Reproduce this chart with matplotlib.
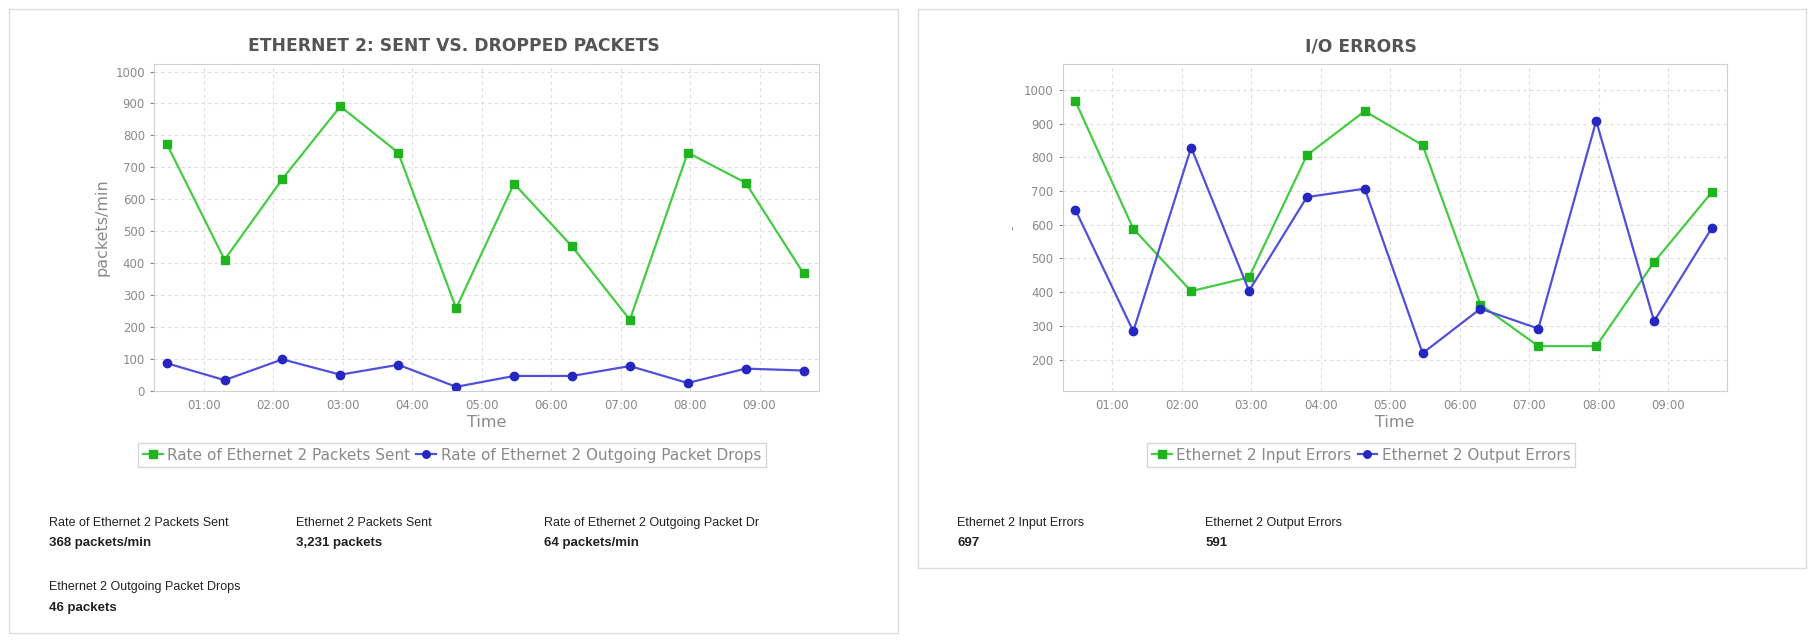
import matplotlib.pyplot as plt
from matplotlib.patches import Rectangle
from matplotlib.ticker import FixedLocator

# sample times (hh:mm), shared by both charts
times = ["00:28", "01:18", "02:08", "02:58", "03:48", "04:38",
         "05:28", "06:18", "07:08", "07:58", "08:48", "09:38"]

# left chart: packets/min
sent_rate = [774, 411, 664, 891, 746, 259, 649, 453, 223, 746, 652, 368]
drop_rate = [87, 34, 99, 51, 82, 13, 47, 47, 78, 25, 70, 64]

# right chart: I/O errors
input_errors = [966, 588, 403, 444, 806, 937, 836, 363, 240, 240, 489, 697]
output_errors = [644, 284, 829, 404, 682, 707, 219, 351, 292, 908, 314, 591]

hour_ticks = [1, 2, 3, 4, 5, 6, 7, 8, 9]
hour_labels = ["01:00", "02:00", "03:00", "04:00", "05:00",
               "06:00", "07:00", "08:00", "09:00"]

x = [int(t[:2]) + int(t[3:]) / 60 for t in times]

GREEN_LINE = "#44cc44"
GREEN_MK = "#1fb31f"
BLUE_LINE = "#5050d8"
BLUE_MK = "#2626c0"
GRAY = "#8a8a8a"

fig = plt.figure(figsize=(18.15, 6.42), dpi=100)

# white panels with light border (behind the axes)
for (x0, y0, w, h) in [(0.0051, 0.0144, 0.4899, 0.9716), (0.5058, 0.115, 0.4892, 0.871)]:
    fig.patches.append(Rectangle((x0, y0), w, h, transform=fig.transFigure, zorder=-1,
                                 facecolor="white", edgecolor="#dcdcdc", lw=1.0))


def style_axes(ax, ylim, yticks):
    ax.set_xlim(0.283, 9.85)
    ax.set_ylim(*ylim)
    ax.xaxis.set_major_locator(FixedLocator(hour_ticks))
    ax.set_xticklabels(hour_labels)
    ax.set_yticks(yticks)
    ax.grid(True, linestyle=(0, (3, 3)), color="#dddddd", lw=0.8)
    ax.set_axisbelow(True)
    for s in ax.spines.values():
        s.set_color("#d0d0d0")
    ax.tick_params(colors=GRAY, labelsize=8.5, length=3, width=0.8)
    ax.tick_params(axis="x", length=0, pad=6)
    ax.set_xlabel("Time", color=GRAY, fontsize=11.5, labelpad=2)


legend_kw = dict(loc="center", ncol=2, fontsize=11, frameon=True, fancybox=False,
                 edgecolor="#cccccc", handlelength=1.3, handletextpad=0.3,
                 columnspacing=0.4, borderpad=0.3, labelcolor=GRAY, markerscale=0.9)

# left chart
ax1 = fig.add_axes([0.0848, 0.391, 0.3662, 0.510])
ax1.plot(x, sent_rate, color=GREEN_LINE, lw=1.6, marker="s", ms=6,
         mfc=GREEN_MK, mec=GREEN_MK, label="Rate of Ethernet 2 Packets Sent")
ax1.plot(x, drop_rate, color=BLUE_LINE, lw=1.6, marker="o", ms=6,
         mfc=BLUE_MK, mec=BLUE_MK, label="Rate of Ethernet 2 Outgoing Packet Drops")
style_axes(ax1, (0, 1025), list(range(0, 1001, 100)))
ax1.set_ylabel("packets/min", color=GRAY, fontsize=11.5, labelpad=4)
fig.text(0.25, 0.928, "ETHERNET 2: SENT VS. DROPPED PACKETS", ha="center", va="center",
         fontsize=12.3, fontweight="bold", color="#555555")
fig.legend(*ax1.get_legend_handles_labels(), bbox_to_anchor=(0.249, 0.291), **legend_kw)

# right chart
ax2 = fig.add_axes([0.5855, 0.391, 0.366, 0.510])
ax2.plot(x, input_errors, color=GREEN_LINE, lw=1.6, marker="s", ms=6,
         mfc=GREEN_MK, mec=GREEN_MK, label="Ethernet 2 Input Errors")
ax2.plot(x, output_errors, color=BLUE_LINE, lw=1.6, marker="o", ms=6,
         mfc=BLUE_MK, mec=BLUE_MK, label="Ethernet 2 Output Errors")
style_axes(ax2, (107, 1078), list(range(200, 1001, 100)))
ax2.set_ylabel("-", color=GRAY, fontsize=9, labelpad=3)
fig.text(0.75, 0.928, "I/O ERRORS", ha="center", va="center",
         fontsize=12.3, fontweight="bold", color="#555555")
fig.legend(*ax2.get_legend_handles_labels(), bbox_to_anchor=(0.75, 0.291), **legend_kw)

# summary stats under charts
narrow = ["Liberation Sans Narrow", "Liberation Sans", "DejaVu Sans"]
stats = [
    (0.0268, 0.186, "Rate of Ethernet 2 Packets Sent", "368 packets/min"),
    (0.163, 0.186, "Ethernet 2 Packets Sent", "3,231 packets"),
    (0.2997, 0.186, "Rate of Ethernet 2 Outgoing Packet Dr", "64 packets/min"),
    (0.0268, 0.085, "Ethernet 2 Outgoing Packet Drops", "46 packets"),
    (0.5274, 0.186, "Ethernet 2 Input Errors", "697"),
    (0.664, 0.186, "Ethernet 2 Output Errors", "591"),
]
for sx, sy, lab, val in stats:
    fig.text(sx, sy, lab, fontsize=9, family=narrow, color="#222222", va="center")
    fig.text(sx, sy - 0.032, val, fontsize=9.5, family=narrow, fontweight="bold",
             color="#222222", va="center")

fig.savefig("out.png", dpi=100, facecolor="white")
